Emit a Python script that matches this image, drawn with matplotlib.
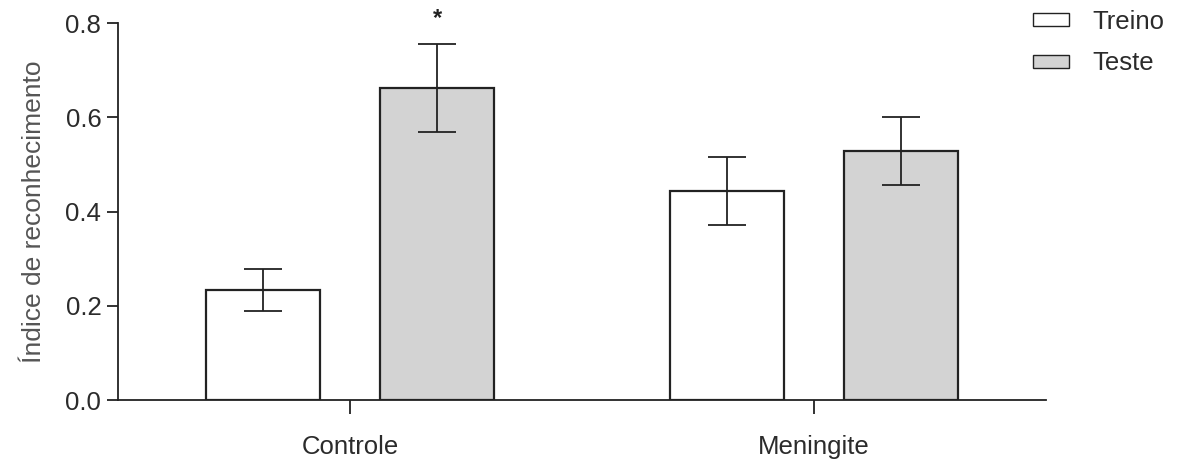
import matplotlib.pyplot as plt
import numpy as np

plt.rcParams["font.family"] = ["Liberation Sans", "DejaVu Sans"]

groups = ["Controle", "Meningite"]
series = ["Treino", "Teste"]
treino_mean = [0.233, 0.443]
treino_sem = [0.044, 0.072]
teste_mean = [0.662, 0.528]
teste_sem = [0.094, 0.072]
yticks = [0.0, 0.2, 0.4, 0.6, 0.8]

TEXT = "#2b2b2b"
EDGE = "#222222"
FS = 18.5

fig = plt.figure(figsize=(11.78, 4.61), dpi=100)
ax = fig.add_axes([0.1002, 0.1323, 0.7878, 0.8177])

x = np.arange(len(groups))
width = 0.246
offset = 0.1875

err_kw = dict(ecolor=EDGE, elinewidth=1.3, capsize=14, capthick=1.3)
b1 = ax.bar(x - offset, treino_mean, width, yerr=treino_sem, color="white",
            edgecolor=EDGE, linewidth=1.6, error_kw=err_kw, label=series[0])
b2 = ax.bar(x + offset, teste_mean, width, yerr=teste_sem, color="#d3d3d3",
            edgecolor=EDGE, linewidth=1.6, error_kw=err_kw, label=series[1])

# significance mark over the Controle test bar
ax.text(x[0] + offset, teste_mean[0] + teste_sem[0] + 0.03, "*",
        ha="center", va="bottom", fontsize=17, color="#222222", fontweight="bold")

ax.set_xlim(-0.5, 1.5)
ax.set_ylim(0, 0.8)
ax.set_yticks(yticks)
ax.set_yticklabels([f"{v:.1f}" for v in yticks])
ax.set_xticks(x)
ax.set_xticklabels(groups)

for side in ["top", "right"]:
    ax.spines[side].set_visible(False)
for side in ["left", "bottom"]:
    ax.spines[side].set_linewidth(1.3)
    ax.spines[side].set_color(EDGE)

ax.tick_params(axis="y", length=8, width=1.3, color=EDGE, labelsize=FS,
               labelcolor=TEXT, pad=4)
ax.tick_params(axis="x", length=10, width=1.3, color=EDGE, labelsize=FS,
               labelcolor=TEXT, pad=15)

ax.set_ylabel("Índice de reconhecimento", fontsize=19, color="#555555", labelpad=14)

leg = fig.legend(handles=[b1, b2], labels=series, loc="upper left",
                 bbox_to_anchor=(1033 / 1178, 1 - 10 / 461), frameon=False,
                 fontsize=FS, borderpad=0, borderaxespad=0,
                 handlelength=1.4, handleheight=0.38, handletextpad=0.9,
                 labelspacing=0.68, labelcolor=TEXT)
for h in leg.legend_handles:
    h.set_linewidth(1.0)

fig.savefig("out.png", dpi=100)
